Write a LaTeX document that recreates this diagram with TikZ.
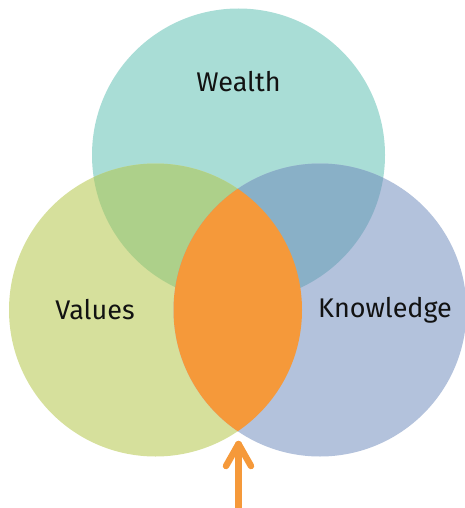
\documentclass[tikz,border=0pt]{standalone}
\usepackage{fontspec}
\setmainfont{Fira Sans}
\definecolor{wealthfill}{HTML}{A9DDD6}
\definecolor{valuesfill}{HTML}{D6E09C}
\definecolor{knowfill}{HTML}{B3C2DC}
\definecolor{wvfill}{HTML}{ADD08A}
\definecolor{wkfill}{HTML}{89B0C7}
\definecolor{lensfill}{HTML}{F5993A}
\begin{document}
\begin{tikzpicture}[x=1pt,y=-1pt,
  setlabel/.style={font=\fontsize{27}{32}\selectfont, text=black!93},
  pointer/.style={draw=lensfill, line width=6.5pt, line cap=round, line join=round}]
\useasboundingbox (0,0) rectangle (464,508);
\coordinate (W) at (238.5,155);
\coordinate (V) at (155.5,310);
\coordinate (K) at (320,310);
% the three sets
\fill[wealthfill] (W) circle (146.5pt);
\fill[valuesfill] (V) circle (146.5pt);
\fill[knowfill] (K) circle (146.5pt);
% overlaps with wealth
\begin{scope}
\clip (W) circle (146.5pt);
\fill[wvfill] (V) circle (146.5pt);
\fill[wkfill] (K) circle (146.5pt);
\end{scope}
% values and knowledge
\begin{scope}
\clip (V) circle (146.5pt);
\fill[lensfill] (K) circle (146.5pt);
\end{scope}
\node[setlabel] (wealth) at (238.5,82) {Wealth};
\node[setlabel] (values) at (95,310) {Values};
\node[setlabel] (knowledge) at (385,310) {Knowledge};
\coordinate (tail) at (238.5,512);
\coordinate (tip) at (238.5,444);
\draw[pointer] (tail) -- (tip);
\draw[pointer] (tip) ++(-12.5,22) -- (tip) -- ++(12.5,22);
\end{tikzpicture}
\end{document}
